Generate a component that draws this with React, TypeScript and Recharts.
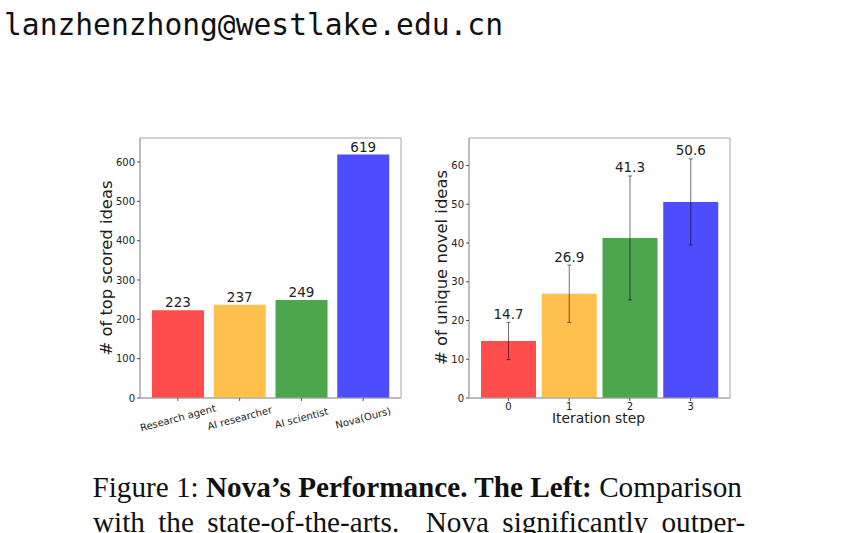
import { BarChart, Bar, XAxis, YAxis, Cell, LabelList, ErrorBar, CartesianGrid } from 'recharts';

// left panel: comparison with other agents
const agentNames = ['Research agent', 'AI researcher', 'AI scientist', 'Nova(Ours)'];
const topScoredIdeas = [223, 237, 249, 619];
const leftTicks = [0, 100, 200, 300, 400, 500, 600];

// right panel: novel ideas per iteration step
const iterationSteps = ['0', '1', '2', '3'];
const novelIdeas = [14.7, 26.9, 41.3, 50.6];
const novelErrors = [4.8, 7.4, 16.0, 11.1];
const rightTicks = [0, 10, 20, 30, 40, 50, 60];

const barColors = ['#ff4d4d', '#ffc04d', '#4da64d', '#4d4dff'];

const FONT = 'DejaVu Sans';
const FRAME = '#a6a6a6';
const INK = '#222';

const leftData = agentNames.map((name, i) => ({ name, value: topScoredIdeas[i] }));
const rightData = iterationSteps.map((name, i) => ({ name, value: novelIdeas[i], err: novelErrors[i] }));

const tickStyle = { fontSize: 10, fill: INK, fontFamily: FONT };

// box around the plot area (matplotlib spines)
const frameRows = ({ offset }: any) => (offset ? [offset.top, offset.top + offset.height] : []);
const frameCols = ({ offset }: any) => (offset ? [offset.left, offset.left + offset.width] : []);

function SlantTick(props: any) {
    const { x, y, payload } = props;
    return (
        <g transform={`translate(${x},${y + 15}) rotate(-15)`}>
            <text textAnchor="middle" dy="0.35em" fontSize={10} fill={INK} fontFamily={FONT}>
                {payload.value}
            </text>
        </g>
    );
}

// value above the error bar cap
function NovelLabel(props: any) {
    const { x, y, width, height, value, index } = props;
    const pxPerUnit = height / value;
    const capTop = y - novelErrors[index] * pxPerUnit;
    return (
        <text x={x + width / 2} y={capTop - 3.5} textAnchor="middle" fontSize={13.5} fill={INK} fontFamily={FONT}>
            {Number(value).toFixed(1)}
        </text>
    );
}

function LeftChart() {
    return (
        <BarChart width={350} height={330} data={leftData} margin={{ top: 18, right: 9, bottom: 12, left: 40 }}>
            <CartesianGrid stroke={FRAME} fill="none" horizontalCoordinatesGenerator={frameRows} verticalCoordinatesGenerator={frameCols} />
            <XAxis
                dataKey="name"
                height={40}
                padding={{ left: 7, right: 7 }}
                axisLine={{ stroke: FRAME }}
                tickLine={{ stroke: '#555' }}
                tickSize={3}
                tick={<SlantTick />}
                interval={0}
            />
            <YAxis
                width={40}
                domain={[0, 661]}
                ticks={leftTicks}
                axisLine={{ stroke: FRAME }}
                tickLine={{ stroke: '#555' }}
                tickSize={3}
                tick={tickStyle}
            />
            <Bar dataKey="value" barSize={52} isAnimationActive={false}>
                {leftData.map((_, i) => (
                    <Cell key={i} fill={barColors[i]} />
                ))}
                <LabelList dataKey="value" position="top" offset={3} style={{ fontSize: 13.5, fill: INK, fontFamily: FONT }} />
            </Bar>
        </BarChart>
    );
}

function RightChart() {
    return (
        <BarChart width={340} height={330} data={rightData} margin={{ top: 18, right: 20, bottom: 12, left: 20 }}>
            <CartesianGrid stroke={FRAME} fill="none" horizontalCoordinatesGenerator={frameRows} verticalCoordinatesGenerator={frameCols} />
            <XAxis
                dataKey="name"
                height={40}
                padding={{ left: 9, right: 9 }}
                axisLine={{ stroke: FRAME }}
                tickLine={{ stroke: '#555' }}
                tickSize={3}
                tick={tickStyle}
                interval={0}
            />
            <YAxis
                width={39}
                domain={[0, 67.1]}
                ticks={rightTicks}
                axisLine={{ stroke: FRAME }}
                tickLine={{ stroke: '#555' }}
                tickSize={3}
                tick={tickStyle}
            />
            <Bar dataKey="value" barSize={55} isAnimationActive={false} label={<NovelLabel />}>
                {rightData.map((_, i) => (
                    <Cell key={i} fill={barColors[i]} />
                ))}
                <ErrorBar dataKey="err" width={2} stroke="rgba(0,0,0,0.55)" strokeWidth={1} />
            </Bar>
        </BarChart>
    );
}

export default function App() {
    return (
        <div style={{ position: 'absolute', left: 0, top: 0, width: 861, height: 533, background: '#fff', overflow: 'hidden' }}>
            <div style={{ position: 'absolute', left: 60, top: 120 }}>
                <LeftChart />
            </div>
            <div style={{ position: 'absolute', left: 410, top: 120 }}>
                <RightChart />
            </div>
            <svg width={861} height={533} style={{ position: 'absolute', left: 0, top: 0, pointerEvents: 'none' }}>
                <text x={4} y={35} fontFamily="DejaVu Sans Mono" fontSize={31} fill="#111" textLength={499} lengthAdjust="spacingAndGlyphs">
                    lanzhenzhong@westlake.edu.cn
                </text>

                {/* axis titles */}
                <text transform="translate(112,268) rotate(-90)" textAnchor="middle" fontFamily={FONT} fontSize={16.5} fill={INK} textLength={175} lengthAdjust="spacingAndGlyphs">
                    # of top scored ideas
                </text>
                <text transform="translate(447,267.5) rotate(-90)" textAnchor="middle" fontFamily={FONT} fontSize={16.5} fill={INK} textLength={195} lengthAdjust="spacingAndGlyphs">
                    # of unique novel ideas
                </text>
                <text x={598.5} y={422.5} textAnchor="middle" fontFamily={FONT} fontSize={14} fill={INK} textLength={93} lengthAdjust="spacingAndGlyphs">
                    Iteration step
                </text>

                {/* caption */}
                <g fontFamily="Liberation Serif" fontSize={29.2} fill="#111">
                    <text x={92.5} y={497}>
                        Figure 1: <tspan fontWeight="bold">Nova’s Performance. The Left:</tspan> Comparison
                    </text>
                    <text x={93} y={532} style={{ whiteSpace: 'pre', wordSpacing: 6 }}>
                        {'with the state-of-the-arts.  Nova significantly outper-'}
                    </text>
                </g>
            </svg>
        </div>
    );
}
